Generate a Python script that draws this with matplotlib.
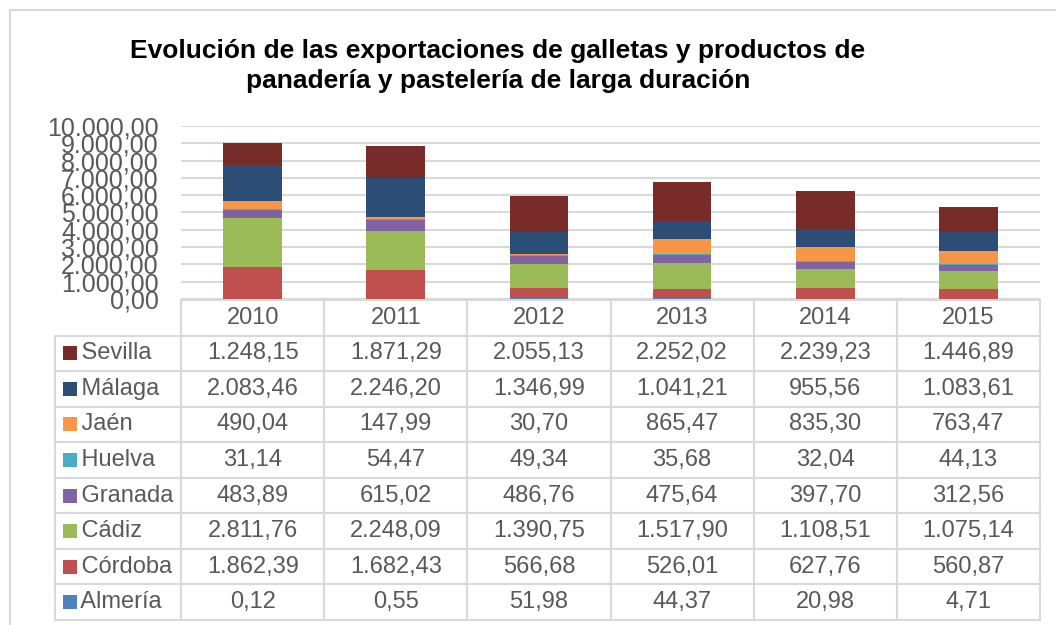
import matplotlib.pyplot as plt
import numpy as np
from matplotlib.patches import Rectangle

plt.rcParams['font.family'] = ['Liberation Sans', 'DejaVu Sans']

years = ['2010', '2011', '2012', '2013', '2014', '2015']

# series in stacking order (bottom first)
provinces = ['Almería', 'Córdoba', 'Cádiz', 'Granada', 'Huelva', 'Jaén', 'Málaga', 'Sevilla']
almeria = [0.12, 0.55, 51.98, 44.37, 20.98, 4.71]
cordoba = [1862.39, 1682.43, 566.68, 526.01, 627.76, 560.87]
cadiz = [2811.76, 2248.09, 1390.75, 1517.90, 1108.51, 1075.14]
granada = [483.89, 615.02, 486.76, 475.64, 397.70, 312.56]
huelva = [31.14, 54.47, 49.34, 35.68, 32.04, 44.13]
jaen = [490.04, 147.99, 30.70, 865.47, 835.30, 763.47]
malaga = [2083.46, 2246.20, 1346.99, 1041.21, 955.56, 1083.61]
sevilla = [1248.15, 1871.29, 2055.13, 2252.02, 2239.23, 1446.89]
series = [almeria, cordoba, cadiz, granada, huelva, jaen, malaga, sevilla]
colors = ['#4F81BD', '#C0504D', '#9BBB59', '#8064A2', '#4BACC6', '#F79646', '#2C4D75', '#772C2A']

yticks = np.arange(0, 10001, 1000)


def fmt_es(v):
    s = f'{v:,.2f}'
    return s.replace(',', 'X').replace('.', ',').replace('X', '.')


W, H = 1056, 625
fig = plt.figure(figsize=(W / 100, H / 100), dpi=100)

# outer chart border
fig.patches.append(Rectangle((10 / W, -0.1), 1.2, (H - 10) / H + 0.1, transform=fig.transFigure,
                             fill=False, edgecolor='#D9D9D9', linewidth=1.5))

ax_l, ax_r, ax_t, ax_b = 181, 1040, 126, 299
ax = fig.add_axes([ax_l / W, 1 - ax_b / H, (ax_r - ax_l) / W, (ax_b - ax_t) / H])

x = np.arange(len(years))
bottom = np.zeros(len(years))
for vals, c in zip(series, colors):
    ax.bar(x, vals, 0.41, bottom=bottom, color=c, zorder=3)
    bottom += np.array(vals)

ax.set_xlim(-0.5, len(years) - 0.5)
ax.set_ylim(0, 10000)
ax.set_yticks(yticks)
ax.set_yticklabels([fmt_es(v) for v in yticks], fontsize=18, color='#595959')
ax.tick_params(axis='y', length=0, pad=16)
ax.set_xticks([])
ax.grid(axis='y', color='#D9D9D9', linewidth=1.5, zorder=0)
for s in ax.spines.values():
    s.set_visible(False)

# data table (first column holds the province names)
rows = provinces[::-1]
row_vals = series[::-1]
cell_text = [['    ' + name] + [fmt_es(v) for v in vals] for name, vals in zip(rows, row_vals)]
tab_l, tab_t, tab_b = 55, 300, 620
aw, ah = ax_r - ax_l, ax_b - ax_t
tbl = ax.table(cellText=cell_text, colLabels=[''] + years,
               colWidths=[126] + [143] * 6, cellLoc='center',
               bbox=[(tab_l - ax_l) / aw, (ax_b - tab_b) / ah, (ax_r - tab_l) / aw, (tab_b - tab_t) / ah])
tbl.auto_set_font_size(False)
for (r, c), cell in tbl.get_celld().items():
    cell.set_edgecolor('#D9D9D9')
    cell.set_linewidth(1.5)
    cell.get_text().set_fontsize(17)
    cell.get_text().set_color('#595959')
    if c == 0:
        cell.PAD = 0.0
        cell.get_text().set_horizontalalignment('left')
        cell._loc = 'left'
    if r == 0 and c == 0:
        cell.set_visible(False)

# legend keys inside name cells
row_h = (tab_b - tab_t) / (len(rows) + 1)
for i, c in enumerate(colors[::-1]):
    yc = tab_t + row_h * (i + 1.5)
    fig.patches.append(Rectangle(((tab_l + 8) / W, 1 - (yc + 7) / H), 14 / W, 14 / H,
                                 transform=fig.transFigure, facecolor=c, edgecolor='none'))

fig.text(498 / W, 1 - 66 / H,
         'Evolución de las exportaciones de galletas y productos de\npanadería y pastelería de larga duración',
         ha='center', va='center', fontsize=19, fontweight='bold', linespacing=1.32)

fig.savefig('out.png', dpi=100)
